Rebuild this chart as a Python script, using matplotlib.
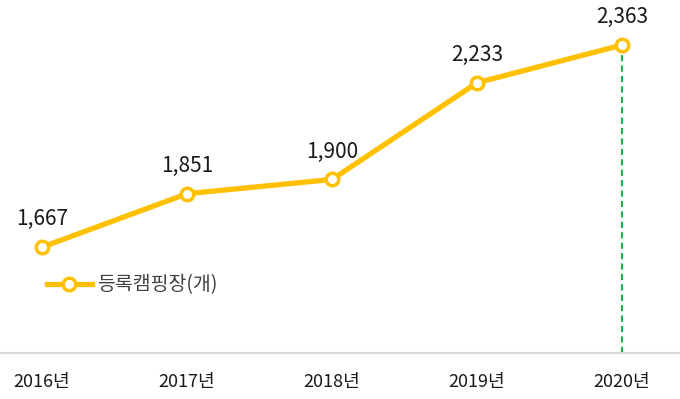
import matplotlib
matplotlib.use("Agg")
import matplotlib.pyplot as plt

plt.rcParams['font.family'] = ['Noto Sans CJK KR', 'DejaVu Sans']

years = ['2016년', '2017년', '2018년', '2019년', '2020년']
campsites = [1667, 1851, 1900, 2233, 2363]
series_name = '등록캠핑장(개)'

line_color = '#FFC000'

fig = plt.figure(figsize=(6.8, 3.99), dpi=100)
ax = fig.add_axes([0, 0.115, 1, 0.885])

x = list(range(len(years)))
ax.plot(x, campsites, color=line_color, linewidth=3.8, marker='o',
        markersize=9, markerfacecolor='white', markeredgecolor=line_color,
        markeredgewidth=2.5, label=series_name, zorder=3)

# data labels
for xi, v in zip(x, campsites):
    ax.annotate(f"{v:,}", (xi, v), xytext=(0, 20), textcoords='offset points',
                ha='center', va='center', fontsize=15, color='#1a1a1a')

# dashed marker line on the last year
ax.vlines(x[-1], 1302, campsites[-1], colors='#1DB14B', linestyles=(0, (3, 2)),
          linewidth=1.5, zorder=2)

ax.set_xlim(-0.29, 4.4)
ax.set_ylim(1302, 2518)

for s in ['top', 'right', 'left']:
    ax.spines[s].set_visible(False)
ax.spines['bottom'].set_color('#d9d9d9')
ax.spines['bottom'].set_linewidth(1.5)
ax.set_yticks([])
ax.set_xticks(x)
ax.set_xticklabels(years, fontsize=13, color='#1a1a1a')
ax.tick_params(axis='x', length=0, pad=14)

ax.legend(loc='center left', bbox_to_anchor=(0.069, 0.193), frameon=False,
          fontsize=14, handlelength=2.3, handletextpad=0.3, borderpad=0,
          borderaxespad=0, labelcolor='#404040')

fig.savefig('out.png', dpi=100)
